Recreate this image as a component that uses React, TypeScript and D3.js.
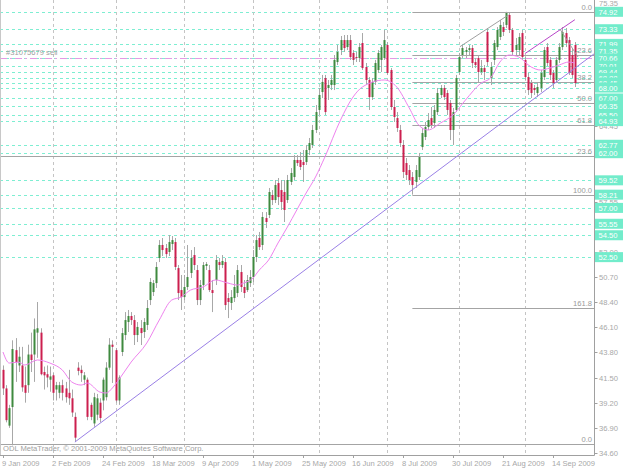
import React from "react";
import * as d3 from "d3";

const W = 625;
const H = 469;

// daily bars [open, high, low, close], one per weekday from 9 Jan 2009
const ohlc: [number, number, number, number][] = [
  [42.2, 42.6, 39.9, 40.5], [40.5, 40.8, 37.4, 37.6], [37.1, 39.0, 36.9, 38.7], [38.8, 44.9, 35.3, 44.1],
  [44.0, 45.1, 41.1, 42.9], [42.6, 44.3, 42.0, 43.4], [42.6, 44.3, 40.2, 40.6], [40.8, 42.5, 39.2, 40.1],
  [40.8, 44.5, 40.1, 43.6], [43.6, 45.6, 42.0, 43.1], [43.6, 46.9, 41.1, 45.9], [45.6, 48.4, 43.3, 46.0],
  [45.6, 46.0, 41.7, 41.8], [42.0, 42.5, 40.4, 41.7], [41.8, 42.6, 40.6, 41.5], [41.3, 42.5, 40.2, 41.6],
  [41.7, 41.9, 39.4, 40.1], [40.4, 41.1, 39.4, 40.8], [40.1, 41.1, 39.6, 40.8], [40.8, 41.3, 39.4, 40.1],
  [40.5, 41.1, 39.2, 39.7], [40.1, 42.2, 39.0, 39.6], [39.6, 40.4, 37.9, 38.3], [37.9, 38.3, 35.6, 36.0],
  [42.4, 42.9, 41.7, 42.1], [42.2, 42.6, 41.1, 41.9], [41.3, 42.0, 40.8, 41.7], [41.3, 41.5, 37.6, 37.9],
  [39.0, 39.2, 37.6, 37.9], [37.3, 40.1, 37.0, 39.7], [38.1, 40.0, 37.6, 39.6], [39.2, 39.6, 37.4, 37.8],
  [39.4, 41.5, 38.5, 41.3], [39.7, 42.9, 39.4, 42.4], [42.4, 45.1, 42.2, 44.5], [44.5, 44.9, 41.0, 44.3],
  [44.0, 44.2, 39.2, 39.4], [39.4, 41.7, 39.0, 41.5],
  [43.83, 46.02, 43.46, 45.56], [45.38, 47.48, 44.92, 46.75], [46.57, 47.67, 45.66, 47.12], [47.12, 47.48, 46.30, 46.75],
  [46.75, 47.21, 44.47, 45.38], [45.38, 46.57, 44.74, 46.12], [46.02, 46.75, 44.47, 45.56], [45.66, 46.93, 45.11, 46.57],
  [46.30, 48.58, 45.84, 47.85], [48.58, 50.59, 48.12, 50.23], [49.31, 50.41, 48.95, 50.13], [50.13, 52.05, 49.68, 51.60],
  [52.42, 54.06, 52.05, 53.61], [53.61, 54.25, 52.60, 53.15], [53.33, 53.70, 52.42, 52.78], [52.97, 54.52, 52.60, 53.88],
  [53.70, 54.43, 53.15, 54.06], [53.88, 54.25, 51.32, 51.60], [51.50, 51.78, 48.58, 49.22], [49.49, 50.87, 47.67, 48.85],
  [48.85, 50.87, 48.58, 49.77], [49.77, 53.61, 49.49, 50.68], [51.05, 53.15, 50.59, 52.42], [52.69, 53.42, 51.32, 51.78],
  [51.32, 51.78, 48.12, 48.58], [48.58, 50.41, 48.12, 49.95], [49.95, 52.05, 49.49, 51.78], [51.69, 52.05, 51.32, 51.87],
  [51.32, 51.78, 49.31, 49.49], [49.49, 50.41, 47.48, 49.22], [50.41, 52.69, 49.95, 52.24], [52.05, 52.42, 51.32, 51.78],
  [51.78, 52.69, 51.50, 52.15], [52.05, 52.42, 47.67, 48.12], [48.76, 49.22, 46.93, 48.40], [48.31, 49.49, 47.67, 48.85],
  [48.76, 50.87, 48.40, 49.77], [49.22, 51.78, 48.85, 51.32], [51.14, 51.78, 49.31, 49.77], [49.77, 50.41, 48.76, 49.22],
  [49.49, 50.87, 49.31, 50.41], [50.13, 51.32, 49.77, 50.68], [50.68, 53.15, 50.23, 52.51], [52.51, 54.52, 52.05, 54.06],
  [54.25, 54.80, 53.15, 53.42], [53.61, 56.62, 53.15, 56.17], [56.07, 56.62, 55.16, 55.71], [56.35, 58.82, 56.07, 58.45],
  [58.18, 58.63, 57.26, 57.72], [57.72, 59.55, 57.45, 59.09], [59.27, 59.73, 57.26, 57.99], [58.63, 59.55, 56.81, 57.54],
  [58.45, 59.55, 55.71, 56.81], [57.72, 60.01, 57.45, 59.55], [59.37, 60.64, 59.09, 60.19], [59.82, 61.83, 59.55, 61.38],
  [61.38, 61.83, 60.83, 61.10], [61.38, 62.11, 60.46, 60.74], [61.19, 62.29, 59.37, 60.92], [61.19, 62.75, 60.92, 62.29],
  [62.29, 63.39, 61.83, 62.93], [62.75, 64.58, 62.47, 64.12], [64.12, 66.40, 63.84, 65.76], [65.95, 67.96, 65.49, 67.32],
  [67.59, 69.15, 67.04, 68.51], [68.87, 69.15, 65.49, 65.76], [67.96, 68.69, 66.86, 68.23], [68.23, 69.15, 67.77, 68.69],
  [68.23, 70.97, 67.77, 70.52], [70.33, 71.89, 70.06, 71.25], [71.43, 72.71, 70.97, 72.34], [72.34, 72.80, 71.25, 71.61],
  [71.70, 72.80, 71.43, 72.34], [72.34, 72.80, 70.52, 70.79], [71.16, 71.43, 70.06, 70.52], [70.79, 71.25, 70.33, 70.70],
  [70.70, 72.07, 70.33, 71.70], [72.07, 72.98, 69.60, 69.78], [69.88, 70.24, 68.23, 68.69], [68.69, 68.96, 65.95, 67.13],
  [67.13, 68.87, 66.86, 68.51], [68.51, 70.52, 68.23, 70.24], [69.60, 71.43, 69.33, 71.16], [70.52, 71.89, 69.42, 71.70],
  [70.70, 73.26, 70.52, 72.34], [71.89, 72.16, 69.15, 69.33], [69.60, 69.78, 65.95, 66.22], [66.22, 66.86, 64.85, 65.31],
  [65.21, 65.76, 63.94, 64.30], [64.12, 64.58, 62.56, 62.93], [62.75, 63.20, 59.73, 60.28], [61.10, 61.56, 59.55, 60.01],
  [60.46, 60.92, 59.09, 59.55], [59.82, 60.28, 58.21, 59.09], [59.37, 60.92, 58.82, 60.46], [59.82, 62.02, 59.55, 61.65],
  [62.56, 64.30, 62.29, 63.84], [63.48, 64.85, 63.20, 64.39], [64.39, 65.67, 64.12, 65.03], [65.21, 66.22, 64.30, 64.58],
  [64.76, 66.40, 64.30, 65.95], [65.76, 67.96, 65.49, 67.50], [67.32, 68.23, 67.04, 67.96], [67.96, 68.23, 66.86, 67.13],
  [67.50, 67.77, 65.49, 65.95], [66.59, 66.86, 63.20, 64.12], [64.12, 66.13, 62.75, 65.76], [65.95, 69.15, 65.76, 68.87],
  [69.42, 71.16, 69.15, 70.79], [70.97, 71.89, 70.70, 71.61], [71.25, 71.70, 70.70, 71.43], [71.43, 71.89, 70.97, 71.61],
  [71.61, 71.89, 69.78, 70.24], [70.33, 70.70, 69.78, 70.06], [70.70, 70.97, 68.51, 69.42], [69.42, 70.52, 69.15, 69.78],
  [69.78, 70.06, 68.69, 69.42], [73.08, 73.44, 69.97, 70.33], [68.87, 70.33, 68.23, 69.88], [70.52, 72.34, 70.06, 72.07],
  [71.70, 73.53, 71.43, 73.26], [72.62, 74.17, 72.34, 73.72], [73.53, 73.99, 72.71, 73.08], [73.72, 74.92, 73.44, 74.81],
  [74.63, 74.81, 72.98, 73.26], [73.26, 73.44, 70.97, 71.25], [71.43, 72.53, 70.97, 71.89], [71.43, 72.98, 70.97, 72.62],
  [72.98, 73.26, 70.52, 70.79], [70.52, 70.79, 68.69, 68.96], [68.96, 69.33, 67.32, 67.77], [68.41, 68.69, 67.04, 67.50],
  [67.96, 68.23, 67.32, 67.77], [67.50, 68.41, 67.13, 68.05], [67.96, 69.60, 67.59, 69.33], [68.96, 71.70, 68.69, 71.43],
  [71.70, 72.07, 69.97, 70.24], [70.52, 70.79, 68.69, 69.15], [69.33, 69.60, 67.96, 68.41], [68.69, 70.79, 68.41, 70.52],
  [70.52, 72.07, 70.24, 71.70], [71.70, 73.53, 71.43, 73.08], [72.98, 73.44, 71.70, 72.07], [72.34, 72.62, 69.15, 69.33],
  [70.97, 71.61, 68.87, 69.15], [71.89, 72.16, 68.05, 68.41],
];

// moving average readings (bar index, value)
const maIndex = [0, 2, 5, 7, 11, 15, 19, 22, 25, 27, 31, 33, 35, 37, 41, 46, 50, 54, 57, 60, 64, 68, 72, 75, 77, 80, 82, 85, 88, 91, 94, 97, 100, 103, 108, 112, 115, 122, 126, 130, 133, 136, 140, 144, 148, 153, 156, 159, 162, 165, 169, 172, 175, 178, 181, 183];
const maValue = [43.83, 42.82, 42.91, 42.64, 43.10, 42.82, 42.18, 41.09, 40.81, 40.99, 40.17, 40.08, 40.54, 41.27, 42.91, 44.65, 46.75, 48.58, 48.85, 49.49, 49.77, 50.41, 50.13, 49.95, 50.13, 50.59, 51.32, 52.24, 53.79, 55.25, 56.81, 58.36, 59.82, 61.65, 65.03, 67.13, 68.05, 68.69, 68.05, 66.13, 64.58, 64.12, 64.76, 65.49, 66.86, 68.41, 68.87, 70.33, 70.97, 70.79, 69.88, 69.60, 69.78, 70.06, 70.33, 70.24];

const dateTickIndex = [0, 16, 32, 48, 64, 80, 96, 112, 128, 144, 160, 176];
const dateTickLabels = ["9 Jan 2009", "2 Feb 2009", "24 Feb 2009", "18 Mar 2009", "9 Apr 2009", "1 May 2009", "25 May 2009", "16 Jun 2009", "8 Jul 2009", "30 Jul 2009", "21 Aug 2009", "14 Sep 2009"];
const monthStartIndex = [16, 36, 58, 80, 101, 123, 146, 167];

const priceTicks = [75.35, 73.05, 70.75, 68.45, 66.15, 64.45, 62.15, 59.85, 57.55, 55.25, 53.0, 50.7, 48.4, 46.1, 43.8, 41.5, 39.2, 36.9, 34.6];

const levelLines = [74.92, 73.33, 71.99, 71.35, 70.66, 70.01, 69.44, 68.88, 68.45, 68.0, 67.0, 66.35, 65.5, 64.93, 62.77, 62.0, 59.52, 58.21, 57.0, 55.55, 54.5, 52.5];

const fibLow = 58.21;
const fibHigh = 74.92;
const fibStartIndex = 131;
const fibRatios = [0, 23.6, 38.2, 50.0, 61.8, 100.0, 161.8];
const fib2Prices = [35.45, 61.7];
const fib2Labels = ["0.0", "23.6"];

const trendMain = [[23, 35.6], [178, 68.7]];
const channelTop = [[167, 71.1], [183, 74.2]];
const grayUp = [[146.2, 71.73], [161.7, 74.63]];
const grayDown = [[178.2, 73.35], [184, 70.79]];

const sellPrice = 70.66;
const sellLabel = "#31075679 sell";
const copyright = "ODL MetaTrader, \u00a9 2001-2009 MetaQuotes Software Corp.";

const AQUA_LINE = "#7eeed2";
const AQUA_BOX = "#72eccb";
const GRAY_TXT = "#a8a8a8";
const FONT = "'Liberation Sans', Arial, sans-serif";
const FS = 7.6;

export default function App() {
  const plotRight = 594.5;
  const plotBottom = 455;
  const xs = d3.scaleLinear().domain([0, 1]).range([3, 6.125]);
  const ys = d3.scaleLinear().domain([34.6, 76]).range([453, 0]);
  const idxRight = xs.invert(plotRight);
  const snap = (v: number) => Math.round(v) + 0.5;

  const ray = (pts: number[][], extend: boolean) => {
    const [[i0, p0], [i1, p1]] = pts;
    const endI = extend ? idxRight : i1;
    const slope = (p1 - p0) / (i1 - i0);
    return { x1: xs(i0), y1: ys(p0), x2: xs(endI), y2: ys(p0 + slope * (endI - i0)) };
  };
  const tm = ray(trendMain, true);
  const ct = ray(channelTop, false);
  const gu = ray(grayUp, false);
  const gd = ray(grayDown, false);

  const maLine = d3
    .line<number>()
    .x((_, k) => xs(maIndex[k]))
    .y((v) => ys(v))
    .curve(d3.curveMonotoneX)(maValue);

  // gray axis labels that sit fully under an object price box are hidden in the original
  const visibleTicks = priceTicks.filter((p) => !levelLines.some((q) => Math.abs(ys(p) - ys(q)) < 4.2));
  const topTick = d3.max(priceTicks) as number;

  return (
    <svg width={W} height={H} style={{ position: "fixed", left: 0, top: 0, background: "#fff" }} fontFamily={FONT}>
      <rect x={0} y={0} width={W} height={H} fill="#ffffff" />
      {levelLines.map((p, k) => (
        <line key={"lv" + k} x1={0} x2={plotRight} y1={snap(ys(p))} y2={snap(ys(p))} stroke={AQUA_LINE} strokeWidth={1} strokeDasharray="3,3" />
      ))}
      {monthStartIndex.map((i, k) => (
        <line key={"vg" + k} x1={snap(xs(i))} x2={snap(xs(i))} y1={0} y2={plotBottom} stroke="#c4c4c4" strokeDasharray="3,3" />
      ))}
      {fib2Prices.map((p, k) => (
        <g key={"f2" + k}>
          <line x1={0} x2={plotRight} y1={snap(ys(p))} y2={snap(ys(p))} stroke="#a4a4a4" />
          <text x={592} y={ys(p) - 2} textAnchor="end" fontSize={FS} fill="#999">{fib2Labels[k]}</text>
        </g>
      ))}
      {fibRatios.map((r, k) => {
        const p = fibHigh - (r / 100) * (fibHigh - fibLow);
        const y = snap(ys(p));
        return (
          <g key={"f1" + k}>
            <line x1={xs(fibStartIndex)} x2={plotRight} y1={y} y2={y} stroke="#a4a4a4" />
            <text x={592} y={y - 2.5} textAnchor="end" fontSize={FS} fill="#999">{r.toFixed(1)}</text>
          </g>
        );
      })}
      <line x1={0} x2={plotRight} y1={snap(ys(sellPrice))} y2={snap(ys(sellPrice))} stroke="#e49ae4" strokeDasharray="7,3,2,3" />
      <text x={6} y={ys(sellPrice) - 3} fontSize={FS} fill="#a0a0a0">{sellLabel}</text>
      {ohlc.map(([o, h, l, c], i) => {
        const x = Math.round(xs(i));
        const up = c >= o;
        const top = ys(Math.max(o, c));
        const bot = ys(Math.min(o, c));
        return (
          <g key={"c" + i}>
            <line x1={x + 0.5} x2={x + 0.5} y1={ys(h)} y2={ys(l)} stroke="#a8a8a8" />
            <rect x={x - 0.5} y={top} width={2} height={Math.max(1, bot - top)} fill={up ? "#3f8a3f" : "#cc1f4f"} />
          </g>
        );
      })}
      <path d={maLine || ""} fill="none" stroke="#ee82ee" strokeWidth={1} />
      <line {...tm} stroke="#9a80e6" strokeWidth={1} />
      <line {...ct} stroke="#b845c8" strokeWidth={1} />
      <line {...gu} stroke="#a0a0a0" strokeWidth={1} />
      <line {...gd} stroke="#a0a0a0" strokeWidth={1} />
      <text x={3} y={451} fontSize={FS} fill="#a0a0a0">{copyright}</text>
      <line x1={0} x2={plotRight} y1={plotBottom + 0.5} y2={plotBottom + 0.5} stroke="#a0a0a0" />
      <line x1={plotRight} x2={plotRight} y1={0} y2={plotBottom + 0.5} stroke="#a0a0a0" />
      <line x1={0.5} x2={0.5} y1={0} y2={plotBottom} stroke="#c8c8c8" />
      {priceTicks.map((p, k) => (
        <line key={"ptk" + k} x1={plotRight} x2={plotRight + 3} y1={snap(ys(p))} y2={snap(ys(p))} stroke="#a0a0a0" />
      ))}
      {visibleTicks.map((p, k) => (
        <text key={"ptl" + k} x={599} y={p === topTick ? 6.2 : ys(p) + 3} fontSize={FS} fill={GRAY_TXT}>{p.toFixed(2)}</text>
      ))}
      {levelLines.map((p, k) => (
        <g key={"lb" + k}>
          <rect x={595} y={ys(p) - 5} width={28} height={10} fill={AQUA_BOX} />
          <text x={598.5} y={ys(p) + 3} fontSize={FS} fill="#ffffff">{p.toFixed(2)}</text>
        </g>
      ))}
      {dateTickIndex.map((i, k) => (
        <g key={"dt" + k}>
          <line x1={snap(xs(i))} x2={snap(xs(i))} y1={plotBottom} y2={plotBottom + 3} stroke="#a0a0a0" />
          <text x={xs(i) - 1} y={466} fontSize={FS} fill={GRAY_TXT}>{dateTickLabels[k]}</text>
        </g>
      ))}
    </svg>
  );
}
